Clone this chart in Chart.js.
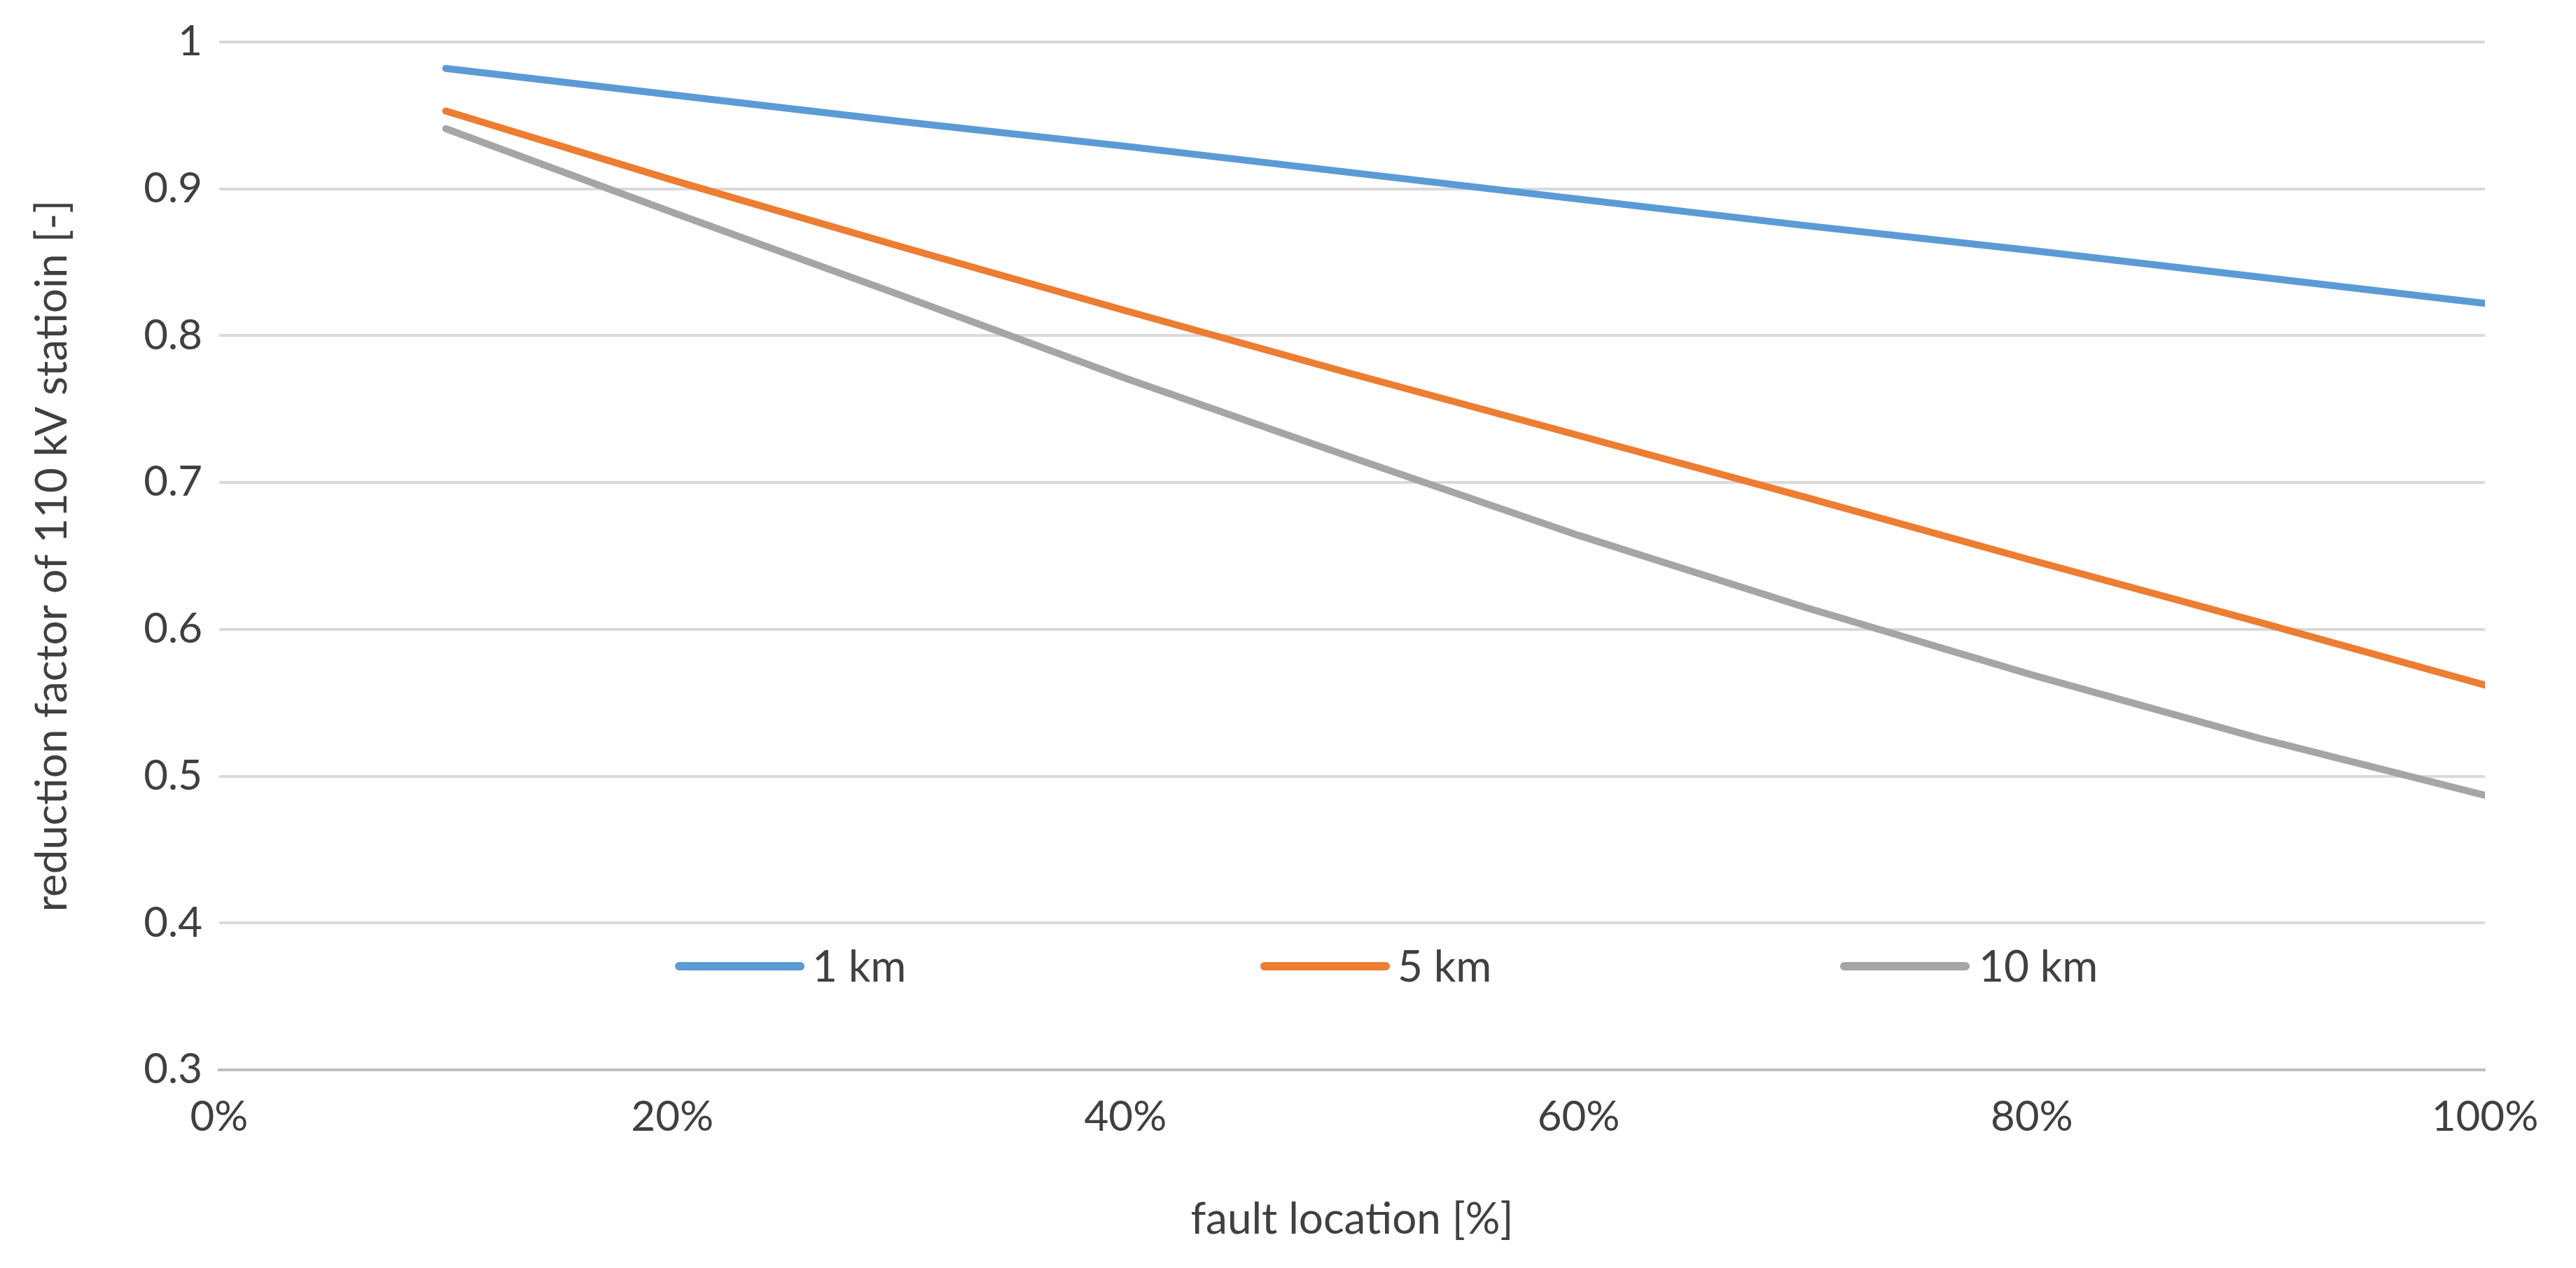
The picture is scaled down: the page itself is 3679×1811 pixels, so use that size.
<!DOCTYPE html>
<html><head><meta charset="utf-8">
<script src="https://cdn.jsdelivr.net/npm/chart.js@4"></script>
<style>html,body{margin:0;padding:0;background:#fff}#wrap{width:3679px;height:1811px}</style>
</head><body><div id="wrap"><canvas id="c"></canvas></div>
<script>
const faultLocation = [0.1,0.2,0.3,0.4,0.5,0.6,0.7,0.8,0.9,1.0];
const km1 = [0.982,0.964,0.946,0.929,0.911,0.893,0.875,0.858,0.840,0.822];
const km5 = [0.953,0.906,0.861,0.817,0.774,0.732,0.690,0.647,0.605,0.562];
const km10 = [0.941,0.884,0.828,0.771,0.717,0.664,0.615,0.569,0.526,0.487];
const seriesNames = ['1 km','5 km','10 km'];
const colors = ['#5B9BD5','#ED7D31','#A5A5A5'];
const font = 'Lato, "Liberation Sans", sans-serif';
const toPts = arr => arr.map((v,i)=>({x:faultLocation[i], y:v}));
const legendPlugin = {
  id:'inLegend',
  afterDraw(chart){
    const ctx = chart.ctx;
    const items = [[970,1143,1160],[1806,1979,1996],[2634,2807,2826]];
    const y = 1380;
    ctx.save();
    items.forEach((it,i)=>{
      ctx.strokeStyle = colors[i]; ctx.lineWidth = 12; ctx.lineCap='round';
      ctx.beginPath(); ctx.moveTo(it[0],y); ctx.lineTo(it[1],y); ctx.stroke();
      ctx.fillStyle='#404040'; ctx.font='62px '+font; ctx.textBaseline='middle'; ctx.textAlign='left';
      ctx.fillText(seriesNames[i], it[2], y+2);
    });
    ctx.restore();
  }
};
new Chart(document.getElementById('c'),{
  type:'line',
  data:{datasets:[km1,km5,km10].map((d,i)=>({label:seriesNames[i],data:toPts(d),borderColor:colors[i],backgroundColor:colors[i],borderWidth:10,pointRadius:0,tension:0,borderCapStyle:'round'}))},
  options:{
    responsive:true, maintainAspectRatio:false, animation:false, devicePixelRatio:1,
    layout:{padding:{top:53,right:130,left:34,bottom:28}},
    plugins:{legend:{display:false},tooltip:{enabled:false}},
    scales:{
      x:{type:'linear',min:0,max:1,
        ticks:{stepSize:0.2,color:'#404040',font:{size:60,family:font},padding:24,callback:v=>Math.round(v*100)+'%'},
        grid:{display:false},border:{color:'#BFBFBF',width:4},
        title:{display:true,text:'fault location [%]',color:'#404040',font:{size:62,family:font},padding:{top:6}},
        afterFit:s=>{s.height=255;}},
      y:{min:0.3,max:1,
        ticks:{stepSize:0.1,color:'#404040',font:{size:60,family:font},padding:24,callback:v=>Math.round(v*10)/10+''},
        grid:{color:'#D9D9D9',lineWidth:4,drawTicks:false},border:{display:false},
        title:{display:true,text:'reduction factor of 110 kV statioin [-]',color:'#404040',font:{size:62,family:font},padding:{bottom:10}},
        afterFit:s=>{s.width=279;}}
    }
  },
  plugins:[legendPlugin]
});
</script></body></html>
